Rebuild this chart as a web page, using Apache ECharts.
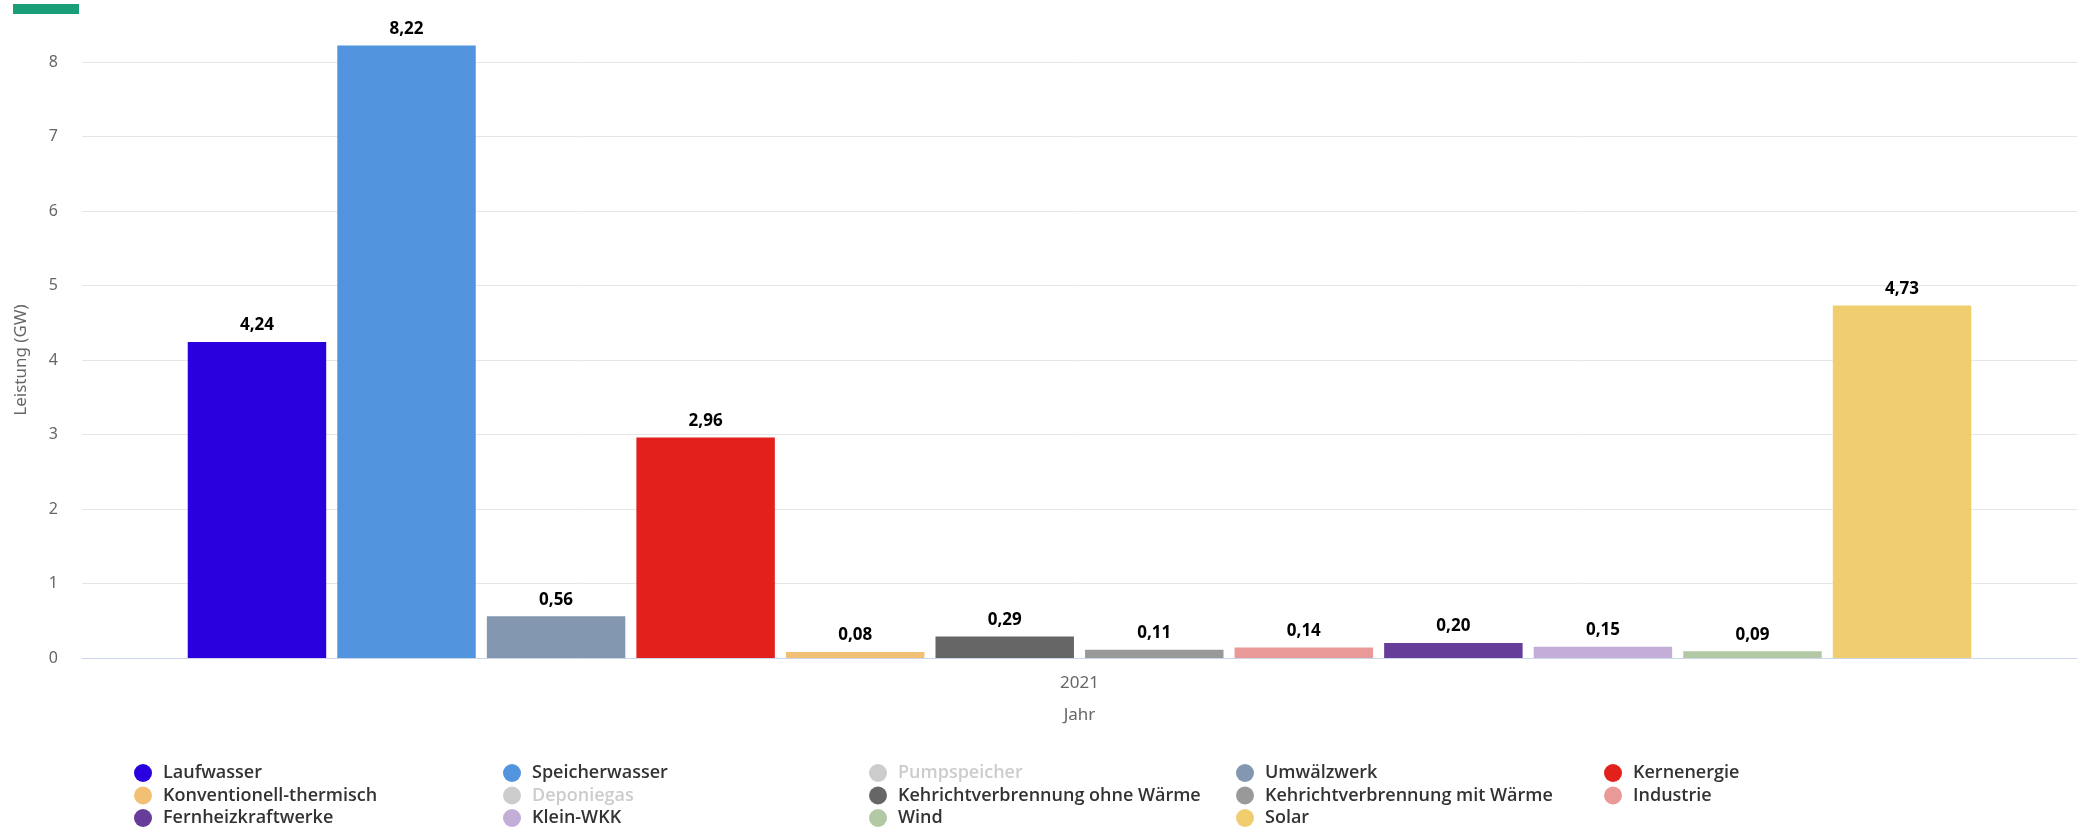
<!DOCTYPE html>
<html>
<head>
<meta charset="utf-8">
<script src="https://cdn.jsdelivr.net/npm/echarts@6/dist/echarts.min.js"></script>
<style>
html,body{margin:0;padding:0;background:#fff;}
#chart{width:2084px;height:827px;}
</style>
</head>
<body>
<div id="chart"></div>
<script>
const categories = ['2021'];
const seriesNames = [
  'Laufwasser', 'Speicherwasser', 'Pumpspeicher', 'Umwälzwerk', 'Kernenergie',
  'Konventionell-thermisch', 'Deponiegas', 'Kehrichtverbrennung ohne Wärme', 'Kehrichtverbrennung mit Wärme', 'Industrie',
  'Fernheizkraftwerke', 'Klein-WKK', 'Wind', 'Solar'
];
const seriesValues = [
  [4.24], [8.22], [null], [0.56], [2.96],
  [0.08], [null], [0.29], [0.11], [0.14],
  [0.20], [0.15], [0.09], [4.73]
];
const hiddenSeries = ['Pumpspeicher', 'Deponiegas'];
const yAxisName = 'Leistung (GW)';
const xAxisName = 'Jahr';

const seriesColors = [
  '#2b00de', '#5294de', '#3fa9c9', '#8497b0', '#e2201c',
  '#f2c075', '#a0a0a0', '#666666', '#999999', '#ea9999',
  '#663d99', '#c3aed8', '#b3c9a5', '#f0cd6e'
];

const FONT = '"Noto Sans", "Open Sans", sans-serif';
const LEGEND_FONT = '"Open Sans", "Noto Sans", sans-serif';
const fmt = v => v.toFixed(2).replace('.', ',');

const series = seriesNames.map((name, i) => ({
  name: name,
  type: 'bar',
  data: seriesValues[i],
  clip: false,
  barGap: '8%',
  barCategoryGap: '10.6%',
  itemStyle: { color: seriesColors[i] },
  label: {
    show: true,
    position: 'top',
    distance: 8,
    color: '#000',
    fontFamily: LEGEND_FONT,
    fontWeight: 'bold',
    fontSize: 17,
    formatter: p => (p.value == null ? '' : fmt(p.value))
  }
}));

const selected = {};
hiddenSeries.forEach(n => { selected[n] = false; });

const legendCenters = [149, 518, 884, 1251, 1619];
const legends = legendCenters.map((cx, c) => ({
  orient: 'vertical',
  left: cx - 15,
  top: 764,
  height: 70,
  icon: 'circle',
  itemWidth: 30,
  itemHeight: 18,
  itemGap: 4.5,
  padding: 0,
  selected: selected,
  inactiveColor: '#cccccc',
  data: seriesNames.filter((_, i) => i % 5 === c),
  textStyle: { fontFamily: LEGEND_FONT, fontWeight: 600, fontSize: 18, color: '#333333', lineHeight: 18 }
}));

const chart = echarts.init(document.getElementById('chart'), null, { renderer: 'canvas' });
chart.setOption({
  animation: false,
  backgroundColor: '#ffffff',
  graphic: [{
    type: 'rect',
    shape: { x: 13, y: 4, width: 66, height: 10 },
    style: { fill: '#1a9e7a' }
  }],
  grid: { left: 82, right: 7, top: 62, bottom: 169, containLabel: false },
  legend: legends,
  xAxis: {
    type: 'category',
    data: categories,
    name: xAxisName,
    nameLocation: 'middle',
    nameGap: 49,
    nameTextStyle: { fontFamily: FONT, fontSize: 17, color: '#666666' },
    axisLine: { lineStyle: { color: '#ccd6eb', width: 1 } },
    axisTick: { show: false },
    axisLabel: { fontFamily: FONT, fontSize: 17, color: '#666666', margin: 17 }
  },
  yAxis: {
    type: 'value',
    min: 0,
    max: 8,
    interval: 1,
    name: yAxisName,
    nameLocation: 'middle',
    nameGap: 52,
    nameTextStyle: { fontFamily: FONT, fontSize: 17, color: '#666666' },
    axisLine: { show: false },
    axisTick: { show: false },
    splitLine: { lineStyle: { color: '#e6e6e6', width: 1 } },
    axisLabel: { fontFamily: FONT, fontSize: 16, color: '#666666', margin: 24 }
  },
  series: series
});
</script>
</body>
</html>
